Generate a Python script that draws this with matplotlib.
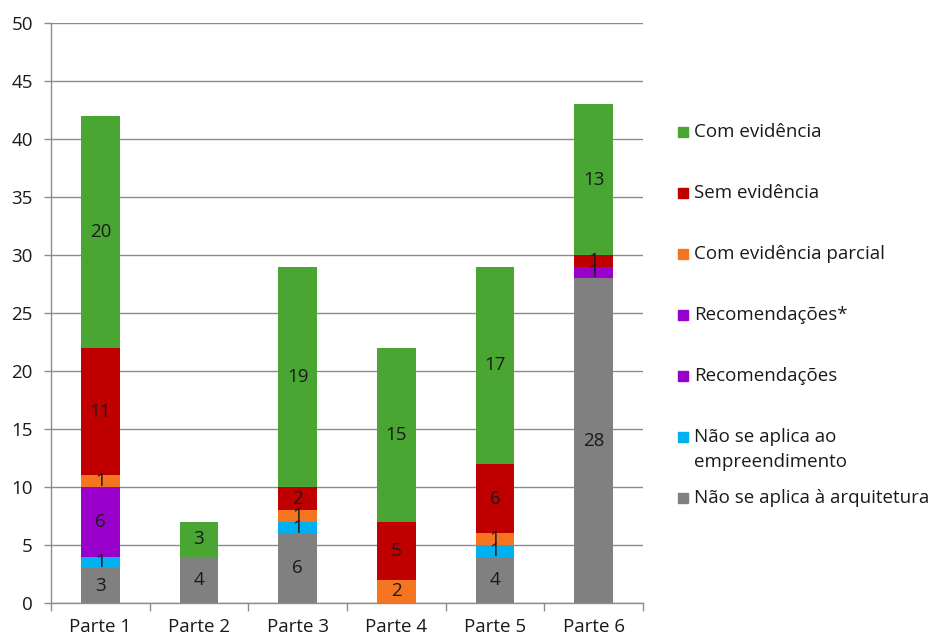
import numpy as np
import matplotlib
matplotlib.use("Agg")
import matplotlib.pyplot as plt
from matplotlib.patches import Rectangle

plt.rcParams['font.family'] = ['Open Sans', 'DejaVu Sans']

partes = ['Parte 1', 'Parte 2', 'Parte 3', 'Parte 4', 'Parte 5', 'Parte 6']

# stacked bottom to top
nao_arquitetura = [3, 4, 6, 0, 4, 28]
nao_empreendimento = [1, 0, 1, 0, 1, 0]
recomendacoes = [6, 0, 0, 0, 0, 0]
recomendacoes_ast = [0, 0, 0, 0, 0, 1]
com_evid_parcial = [1, 0, 1, 2, 1, 0]
sem_evidencia = [11, 0, 2, 5, 6, 1]
com_evidencia = [20, 3, 19, 15, 17, 13]

series = [
    ('Não se aplica à arquitetura', nao_arquitetura, '#808080'),
    ('Não se aplica ao\nempreendimento', nao_empreendimento, '#00B0F0'),
    ('Recomendações', recomendacoes, '#9900CC'),
    ('Recomendações*', recomendacoes_ast, '#9900CC'),
    ('Com evidência parcial', com_evid_parcial, '#F47420'),
    ('Sem evidência', sem_evidencia, '#C00000'),
    ('Com evidência', com_evidencia, '#4AA632'),
]

FS = 13.5
W, H = 931, 637
fig = plt.figure(figsize=(W / 100, H / 100), dpi=100)
ax = fig.add_axes([51 / W, 34 / H, 592 / W, 580 / H])

x = np.arange(len(partes))
bottom = np.zeros(len(partes))
for label, vals, color in series:
    vals = np.array(vals, dtype=float)
    ax.bar(x, vals, 0.39, bottom=bottom, color=color, zorder=3)
    for xi, b, v in zip(x, bottom, vals):
        if v > 0:
            ax.text(xi, b + v / 2, f'{int(v)}', ha='center', va='center',
                    fontsize=FS, color='#1a1a1a', zorder=4)
    bottom += vals

ax.set_xlim(-0.5, len(partes) - 0.5)
ax.set_ylim(0, 50)
ax.set_yticks(np.arange(0, 51, 5))
ax.yaxis.grid(True, color='#8c8c8c', linewidth=1.0, zorder=0)
ax.set_axisbelow(True)

ax.set_xticks(x)
ax.set_xticklabels(partes)
ax.set_xticks(np.arange(-0.5, len(partes), 1), minor=True)
ax.tick_params(axis='x', which='major', length=0, pad=11, labelsize=FS, colors='#1a1a1a')
ax.tick_params(axis='x', which='minor', length=6, width=1, color='#8c8c8c')
ax.tick_params(axis='y', length=5, width=1, color='#8c8c8c', pad=8, labelsize=FS,
               labelcolor='#1a1a1a')

for side in ['top', 'right']:
    ax.spines[side].set_visible(False)
for side in ['left', 'bottom']:
    ax.spines[side].set_color('#8c8c8c')
    ax.spines[side].set_linewidth(1.0)

# legend, top entry first
row_y = 132
for label, vals, color in reversed(series):
    lines = label.split('\n')
    fig.patches.append(Rectangle((678 / W, 1 - (row_y + 5) / H), 10 / W, 10 / H,
                                 transform=fig.transFigure, color=color))
    for k, line in enumerate(lines):
        fig.text(694 / W, 1 - (row_y + 25 * k) / H, line, ha='left', va='center',
                 fontsize=FS, color='#1a1a1a')
    row_y += 61

fig.savefig('out.png', dpi=100)
